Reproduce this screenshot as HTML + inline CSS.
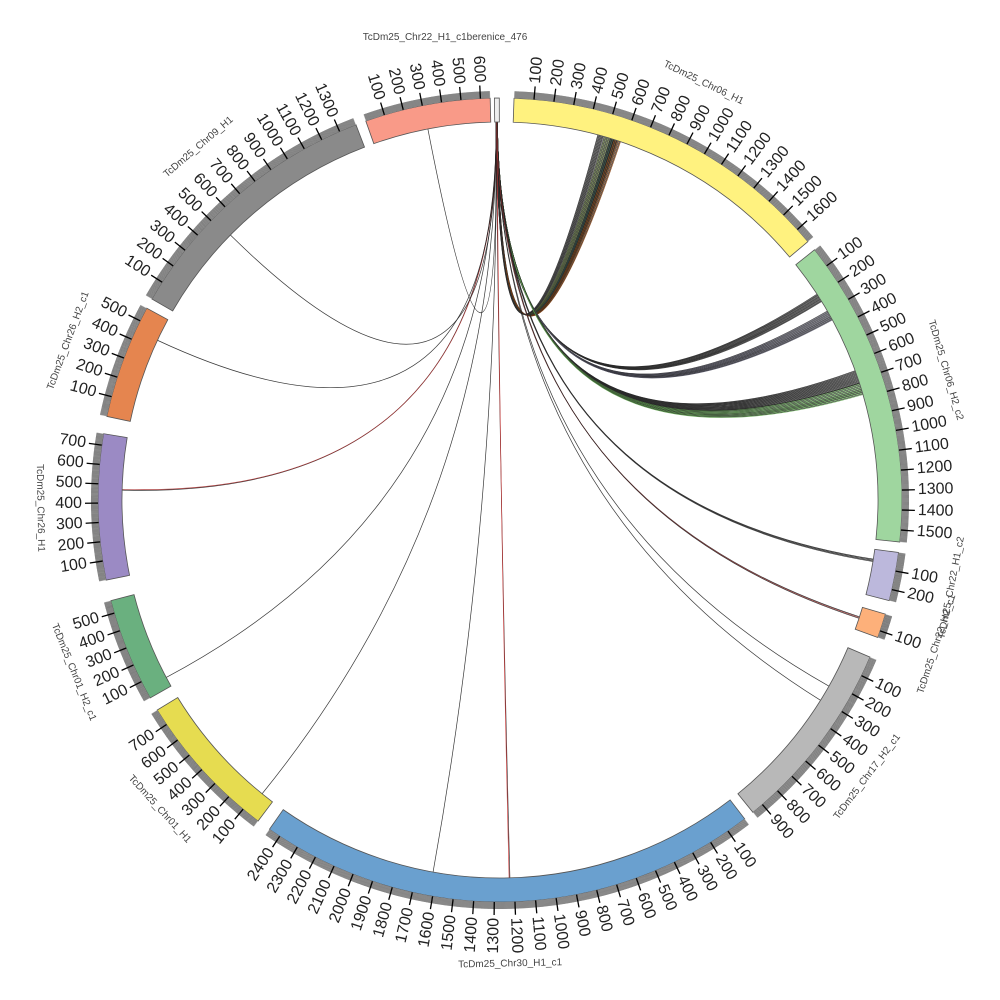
<!DOCTYPE html>
<html><head><meta charset="utf-8"><style>
html,body{margin:0;padding:0;background:#fff;width:1000px;height:1000px;overflow:hidden}
svg text{font-family:"Liberation Sans",sans-serif}
</style></head><body>
<svg id="s" width="1000" height="1000" viewBox="0 0 1000 1000" xmlns="http://www.w3.org/2000/svg"></svg>
<script>
var S=document.getElementById('s'),NS='http://www.w3.org/2000/svg',CX=500,CY=500,RI=378,RO=402;
function el(t,a,txt){var e=document.createElementNS(NS,t);for(var k in a)e.setAttribute(k,a[k]);if(txt!=null)e.textContent=txt;S.appendChild(e);return e;}
function P(r,a){var t=a*Math.PI/180;return [CX+r*Math.sin(t),CY-r*Math.cos(t)];}
var segs=[
["TcDm25_Chr22_H1_c1",340.5,358.6,650,"#f99a88"],
["berenice_476",359.2,359.9,20,"#eeeeee"],
["TcDm25_Chr06_H1",2,50,1680,"#fff27f"],
["TcDm25_Chr06_H2_c2",51.5,96,1560,"#9fd69f"],
["TcDm25_Chr22_H1_c2",97.5,104.5,260,"#bcb8dc"],
["TcDm25_Chr22_H2_c1",106.5,110,140,"#fdb07a"],
["TcDm25_Chr17_H2_c1",113,141,960,"#b8b8b8"],
["TcDm25_Chr30_H1_c1",142.5,215,2460,"#6aa0cf"],
["TcDm25_Chr01_H1",217,238.5,790,"#e6dc50"],
["TcDm25_Chr01_H2_c1",240.5,255.5,570,"#6ab07f"],
["TcDm25_Chr26_H1",258.5,279.5,760,"#9b8ac4"],
["TcDm25_Chr26_H2_c1",282,298.5,570,"#e5854f"],
["TcDm25_Chr09_H1",300,339,1390,"#8a8a8a"]
];
var links=[[16,14,"#556b2f"],[17,10,"#2f4f4f"],[17.5,10,"#8b4513"],[15,8,"#333"],[57,12,"#333"],[60,14,"#556"],[70,18,"#333"],[72,16,"#6a5"],[99,4,"#333"],[108,3,"#a33"],[119.5,1,"#36a"],[122,1,"#333"],[178.5,2,"#c33"],[190.2,1,"#333"],[219,1,"#36a"],[242,1,"#333"],[271.5,2,"#a33"],[295,1,"#aa3"],[314.5,1,"#343"],[349,1,"#a33"]];
links.forEach(function(l){for(var i=0;i<l[1];i++){var a=l[0]+i*0.12,s0=359.4+(i%3)*0.1;var p=P(RI,s0),q=P(RI,a);
el('path',{d:'M'+p[0]+','+p[1]+' Q'+CX+','+CY+' '+q[0]+','+q[1],fill:'none',stroke:i%2?l[2]:'#222','stroke-width':0.7,opacity:0.9});}});
segs.forEach(function(s){var a0=s[1],a1=s[2],L=s[3];
var p1=P(RO,a0),p2=P(RO,a1),p3=P(RI,a1),p4=P(RI,a0),lg=(a1-a0)>180?1:0;
el('path',{d:'M'+p1+' A'+RO+','+RO+' 0 '+lg+' 1 '+p2+' L'+p3+' A'+RI+','+RI+' 0 '+lg+' 0 '+p4+'Z',fill:s[4],stroke:'#555','stroke-width':0.8});
if(L<50)return;
var R2=RO+7,q1=P(RO,a0),q2=P(RO,a1),q3=P(R2,a1),q4=P(R2,a0);
el('path',{d:'M'+q1+' A'+RO+','+RO+' 0 0 1 '+q2+' L'+q3+' A'+R2+','+R2+' 0 0 0 '+q4+'Z',fill:'#aaa',stroke:'none'});
var d='';for(var v=5;v<L;v+=5){var a=a0+(a1-a0)*v/L;var u=P(RO,a),w=P(RO+7,a);d+='M'+u+'L'+w;}
el('path',{d:d,stroke:'#777','stroke-width':0.7,fill:'none'});
var d2='';for(var v=100;v<L;v+=100){var a=a0+(a1-a0)*v/L;d2+='M'+P(RO,a)+'L'+P(RO+13,a);
var t=P(RO+16,a);var right=a<180;var rot=right?a-90:a+90;
el('text',{x:t[0],y:t[1],'font-size':16,fill:'#222','text-anchor':right?'start':'end','dominant-baseline':'central',transform:'rotate('+rot+' '+t[0]+' '+t[1]+')'},v);}
el('path',{d:d2,stroke:'#000','stroke-width':1.3,fill:'none'});
if(s[0]=="TcDm25_Chr22_H1_c1")return;
var mid=(a0+a1)/2,r=RO+(L>1000?62:58);var t=P(r,mid),rot=(mid>90&&mid<270)?mid-180:mid;
el('text',{x:t[0],y:t[1],'font-size':10,fill:'#444','text-anchor':'middle','dominant-baseline':'central',transform:'rotate('+rot+' '+t[0]+' '+t[1]+')'},s[0]);
});
el('text',{x:445,y:40,'font-size':10,fill:'#444','text-anchor':'middle'},'TcDm25_Chr22_H1_c1berenice_476');
</script>
</body></html>
